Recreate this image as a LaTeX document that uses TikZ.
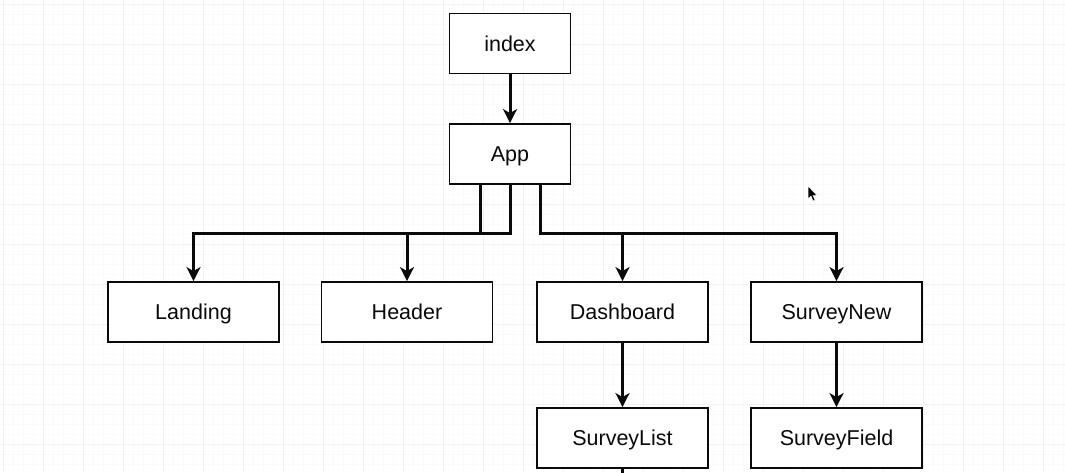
\documentclass[tikz,border=0pt]{standalone}
\usepackage{fontspec}
\setmainfont{Liberation Sans}
\usetikzlibrary{arrows.meta}
\definecolor{gridminor}{HTML}{FAFAFA}
\definecolor{gridmajor}{HTML}{F1F1F1}
\definecolor{inkcol}{HTML}{0A0A0A}
\tikzset{
  box/.style={draw=inkcol, line width=1.8pt, fill=white, inner sep=0pt,
    minimum height=60pt, text=inkcol, text height=15pt, text depth=0pt,
    font=\fontsize{21.5}{25}\selectfont},
  smallbox/.style={box, minimum width=121pt},
  widebox/.style={box, minimum width=171pt},
  conn/.style={draw=inkcol, line width=3pt,
    -{Stealth[length=14pt,width=14pt,inset=4pt]}},
  plainconn/.style={draw=inkcol, line width=3pt}
}
\begin{document}
\begin{tikzpicture}[x=1pt,y=-1pt]
\useasboundingbox (0,0) rectangle (1065,472);
\fill[white] (0,0) rectangle (1065,472);
% grid
\foreach \x in {-7,3,...,1065} \draw[gridminor, line width=0.8pt] (\x,0) -- (\x,472);
\foreach \y in {-6,4,...,472} \draw[gridminor, line width=0.8pt] (0,\y) -- (1065,\y);
\foreach \x in {3,43,...,1065} \draw[gridmajor, line width=1pt] (\x,0) -- (\x,472);
\foreach \y in {4,44,...,472} \draw[gridmajor, line width=1pt] (0,\y) -- (1065,\y);
% nodes
\node[smallbox] (index) at (510,43.5) {index};
\node[smallbox] (app) at (510,154) {App};
\node[widebox] (landing) at (193.5,312) {Landing};
\node[widebox] (header) at (407,312) {Header};
\node[widebox] (dashboard) at (622.5,312) {Dashboard};
\node[widebox] (surveynew) at (836.5,312) {SurveyNew};
\node[widebox] (surveylist) at (622.5,438) {SurveyList};
\node[widebox] (surveyfield) at (836.5,438) {SurveyField};
\coordinate (offpage) at (622.5,480);
% connectors
\draw[conn] (index) -- (app);
\draw[conn] ([xshift=-30pt]app.south) -- ([xshift=-30pt]app.south |- 0,233) -| (landing.north);
\draw[conn] (app.south) -- (app.south |- 0,233) -| (header.north);
\draw[conn] ([xshift=30pt]app.south) -- ([xshift=30pt]app.south |- 0,233) -| (dashboard.north);
\draw[conn] ([xshift=30pt]app.south) -- ([xshift=30pt]app.south |- 0,233) -| (surveynew.north);
\draw[conn] (dashboard) -- (surveylist);
\draw[conn] (surveynew) -- (surveyfield);
\draw[plainconn] (surveylist.south) -- (offpage);
% mouse pointer
\filldraw[fill=black, draw=white, line width=0.5pt]
  (808,186) -- (808,199) -- (811,196) -- (813,201) -- (815,200) -- (813,195.5) -- (817,195.5) -- cycle;
\end{tikzpicture}
\end{document}
